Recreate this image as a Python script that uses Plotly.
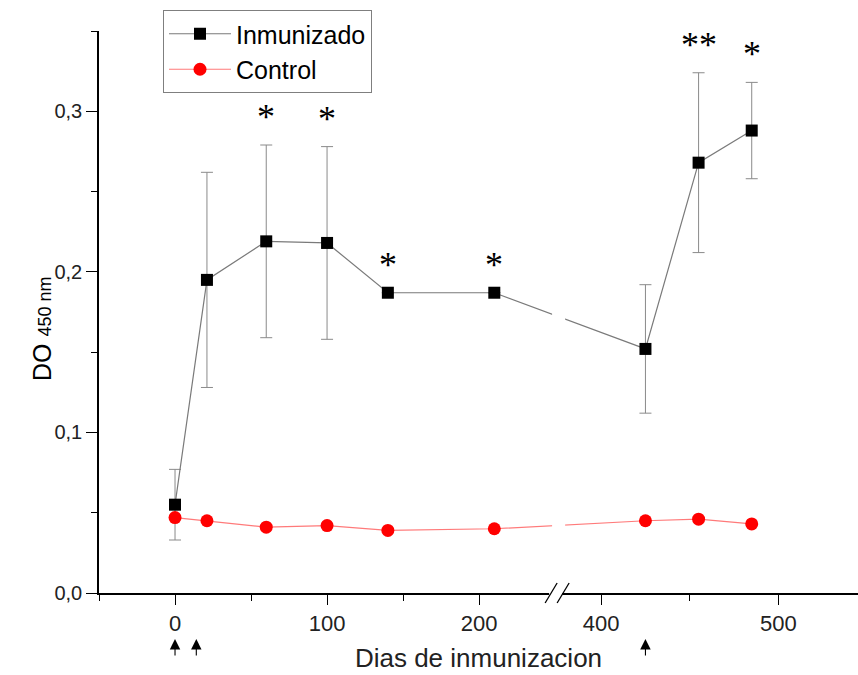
import plotly.graph_objects as go

# Days after first immunization and ELISA optical density (450 nm)
days = [0, 21, 60, 100, 140, 210, 425, 455, 485]
inmunizado = [0.055, 0.195, 0.219, 0.218, 0.187, 0.187, 0.152, 0.268, 0.288]
inmunizado_err = [0.022, 0.067, 0.060, 0.060, 0.0, 0.0, 0.040, 0.056, 0.030]
control = [0.047, 0.045, 0.041, 0.042, 0.039, 0.040, 0.045, 0.046, 0.043]
significance = ["", "", "*", "*", "*", "*", "", "**", "*"]
booster_days = [0, 14, 425]

major_ticks = [0, 100, 200, 400, 500]
minor_ticks = [-50, 50, 150, 450]
y_ticks = [0.0, 0.1, 0.2, 0.3]

# Broken x axis: days up to BREAK_LO are drawn 1:1, days from BREAK_HI on
# are drawn right after the break with their own scale.
BREAK_LO, BREAK_HI, RIGHT_SCALE = 250, 374, 1.165
X_MIN, X_MAX_DAY = -50, 545


def to_axis(day):
    if day <= BREAK_LO:
        return day
    return BREAK_LO + (day - BREAK_HI) * RIGHT_SCALE


X_MAX = to_axis(X_MAX_DAY)
xs = [to_axis(d) for d in days]

FONT = "Arial, Liberation Sans, sans-serif"

fig = go.Figure()
fig.add_trace(go.Scatter(
    x=xs, y=inmunizado, name="Inmunizado", mode="lines+markers",
    line=dict(color="#7a7a7a", width=1.2),
    marker=dict(symbol="square", size=12, color="black"),
    error_y=dict(type="data", array=inmunizado_err, visible=True,
                 color="#8a8a8a", thickness=1, width=6),
))
fig.add_trace(go.Scatter(
    x=xs, y=control, name="Control", mode="lines+markers",
    line=dict(color="#ff7a7a", width=1.2),
    marker=dict(symbol="circle", size=13, color="#ff0000"),
))

annotations = []
# significance stars above the error bars
for x, v, e, s in zip(xs, inmunizado, inmunizado_err, significance):
    if s:
        annotations.append(dict(
            x=x, y=v + e, xref="x", yref="y", text=s, showarrow=False,
            yanchor="bottom", yshift=6,
            font=dict(family="Liberation Serif, Times New Roman, serif",
                      size=36, color="black"),
        ))
# immunization arrows below the axis
for d in booster_days:
    annotations.append(dict(
        x=to_axis(d), y=-0.082, xref="x", yref="paper", text="",
        showarrow=True, ax=0, ay=18, arrowhead=2, arrowsize=1.9,
        arrowwidth=1.1, arrowcolor="black",
    ))
# y axis title with smaller wavelength part
annotations.append(dict(
    x=-0.096, y=0.47, xref="paper", yref="paper", textangle=-90,
    text="DO <span style='font-size:18px'>450 nm</span>", showarrow=False,
    font=dict(family=FONT, size=25, color="black"),
))

break_paper = (BREAK_LO - X_MIN) / (X_MAX - X_MIN)
plot_w = 858 - 99
plot_h = 675 - 31 - 82
dx = 1 / plot_w
dy = 1 / plot_h

shapes = [
    # gap in the data lines at the axis break
    dict(type="rect", xref="x", yref="y", x0=BREAK_LO - 2, x1=BREAK_LO + 6.6,
         y0=0.004, y1=0.35, fillcolor="white", line=dict(width=0), layer="above"),
    # gap in the axis line between the break marks
    dict(type="rect", xref="paper", yref="paper",
         x0=break_paper - 6 * dx, x1=break_paper + 7 * dx,
         y0=-4 * dy, y1=4 * dy, fillcolor="white", line=dict(width=0), layer="above"),
]
for off in (-4, 8):
    shapes.append(dict(
        type="line", xref="paper", yref="paper",
        x0=break_paper + (off - 6) * dx, y0=-10 * dy,
        x1=break_paper + (off + 6) * dx, y1=10 * dy,
        line=dict(color="black", width=1.3), layer="above",
    ))

fig.update_layout(
    width=858, height=675,
    margin=dict(l=99, r=0, t=31, b=82),
    paper_bgcolor="white", plot_bgcolor="white",
    separators=",.",
    font=dict(family=FONT, color="black"),
    showlegend=True,
    legend=dict(
        x=(163 - 99) / plot_w, y=(593 - 10) / plot_h, xanchor="left", yanchor="top",
        bordercolor="#7f7f7f", borderwidth=1, bgcolor="white",
        font=dict(family=FONT, size=25, color="black"),
        itemwidth=62, tracegroupgap=0,
    ),
    xaxis=dict(
        range=[X_MIN, X_MAX], showgrid=False, zeroline=False,
        showline=True, linecolor="black", linewidth=1.5,
        ticks="outside", ticklen=10, tickwidth=1.2, tickcolor="black",
        tickvals=[to_axis(t) for t in major_ticks],
        ticktext=[str(t) for t in major_ticks],
        tickfont=dict(family=FONT, size=22, color="#222"),
        minor=dict(tickvals=[to_axis(t) for t in minor_ticks],
                   ticks="outside", ticklen=6, tickwidth=1.2, tickcolor="black",
                   showgrid=False),
        title=dict(text="Dias de inmunizacion", standoff=14,
                   font=dict(family=FONT, size=26, color="#222")),
    ),
    yaxis=dict(
        range=[0, 0.35], showgrid=False, zeroline=False,
        showline=True, linecolor="black", linewidth=1.5,
        ticks="outside", ticklen=11, tickwidth=1.2, tickcolor="black",
        tickvals=y_ticks, tickformat=".1f",
        tickfont=dict(family=FONT, size=20, color="#222"),
        minor=dict(dtick=0.05, ticks="outside", ticklen=6, tickwidth=1.2,
                   tickcolor="black", showgrid=False),
    ),
    annotations=annotations,
    shapes=shapes,
)

fig.write_html("out.html")
